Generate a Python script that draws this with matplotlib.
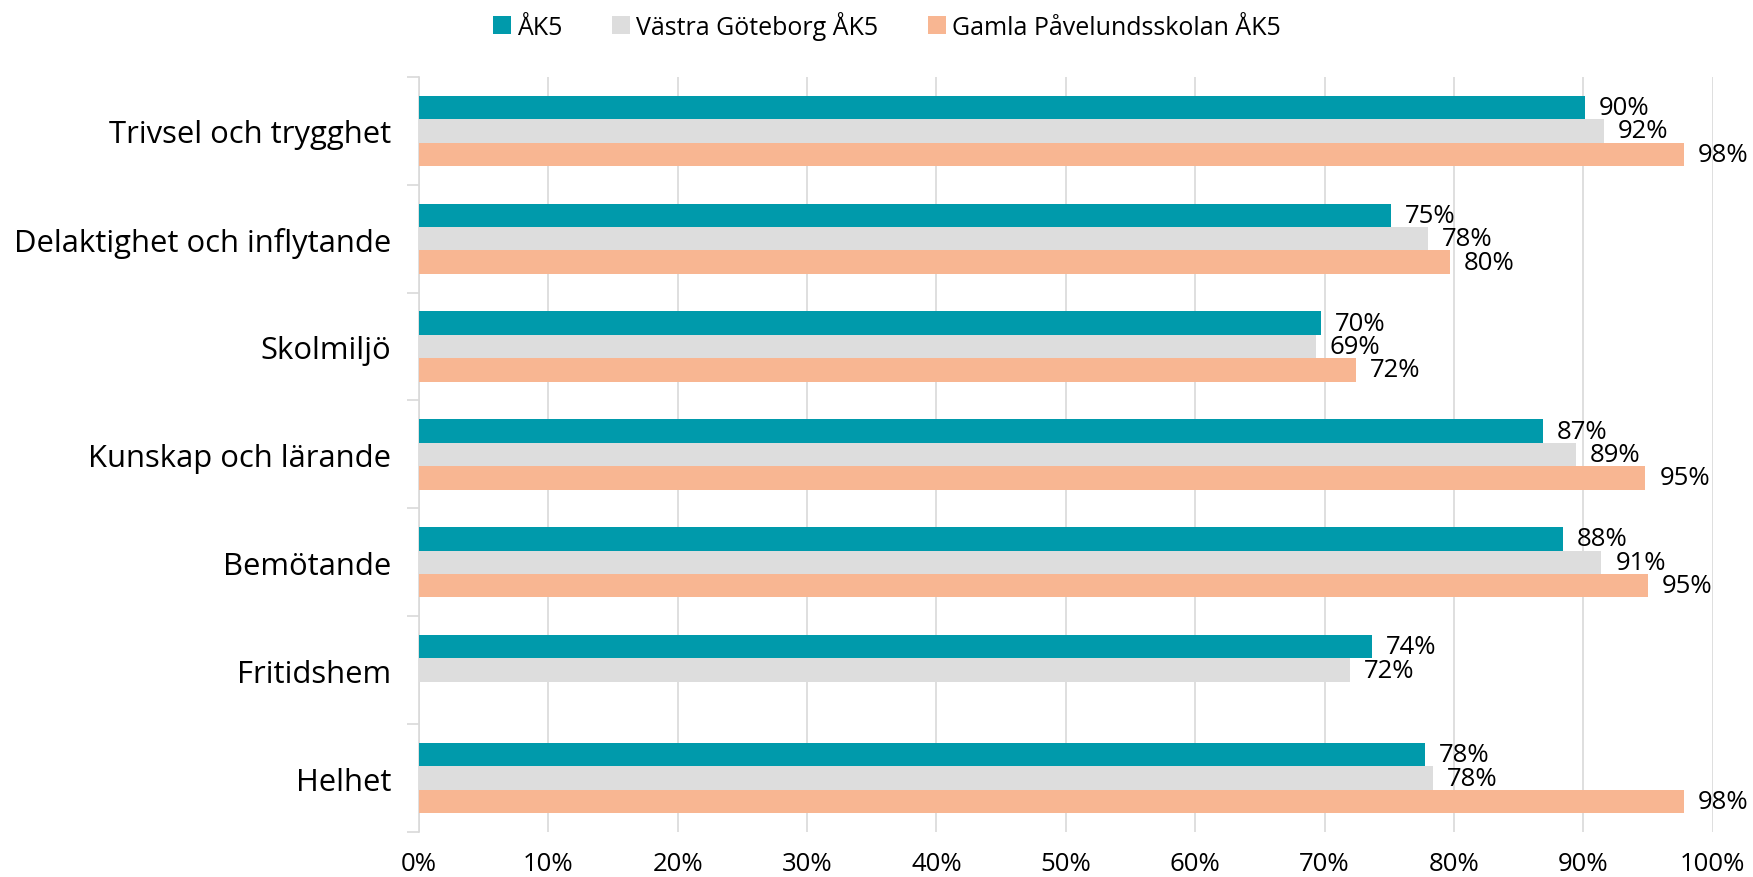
import matplotlib
matplotlib.use("Agg")
import matplotlib.pyplot as plt
import numpy as np

categories = ["Trivsel och trygghet", "Delaktighet och inflytande", "Skolmiljö",
              "Kunskap och lärande", "Bemötande", "Fritidshem", "Helhet"]
series_names = ["ÅK5", "Västra Göteborg ÅK5", "Gamla Påvelundsskolan ÅK5"]
ak5 = [0.901, 0.751, 0.697, 0.869, 0.884, 0.737, 0.778]
vastra = [0.916, 0.780, 0.693, 0.894, 0.914, 0.720, 0.784]
gamla = [0.978, 0.797, 0.724, 0.948, 0.950, np.nan, 0.978]
xticks = [0, 0.1, 0.2, 0.3, 0.4, 0.5, 0.6, 0.7, 0.8, 0.9, 1.0]
xticklabels = ["0%", "10%", "20%", "30%", "40%", "50%", "60%", "70%", "80%", "90%", "100%"]

colors = ["#009AAB", "#DDDDDD", "#F8B692"]
plt.rcParams['font.family'] = ['Open Sans', 'DejaVu Sans']

fig = plt.figure(figsize=(17.53, 8.78), dpi=100)
ax = fig.add_axes([0.239, 0.0513, 0.738, 0.860])

n = len(categories)
y = np.arange(n)
bh = 0.217
offsets = [-bh, 0, bh]
all_series = [ak5, vastra, gamla]
for s, (vals, col, name, off) in enumerate(zip(all_series, colors, series_names, offsets)):
    vals = np.array(vals, dtype=float)
    mask = ~np.isnan(vals)
    ax.barh(y[mask] + off, vals[mask], height=bh, color=col, label=name, zorder=3)
    for yi, v in zip(y[mask] + off, vals[mask]):
        ax.annotate(f"{round(v*100):.0f}%", xy=(v, yi), xytext=(10, 0),
                    textcoords="offset points", va="center", ha="left",
                    fontsize=18.5, color="#000000")

ax.set_xlim(0, 1.0)
ax.set_ylim(n - 0.5, -0.5)
ax.set_xticks(xticks)
ax.set_xticklabels(xticklabels, fontsize=18.5)
ax.set_yticks(y)
ax.set_yticklabels(categories, fontsize=22.3)
ax.set_yticks(np.arange(-0.5, n, 1.0), minor=True)
ax.tick_params(axis='y', which='major', length=0, pad=20)
ax.tick_params(axis='y', which='minor', length=9, color="#D9D9D9", width=1.2)
ax.tick_params(axis='x', which='major', length=0, pad=14)
ax.grid(axis='x', color="#D9D9D9", linewidth=1.2, zorder=0)
for sp in ["top", "right", "bottom"]:
    ax.spines[sp].set_visible(False)
ax.spines["left"].set_color("#D9D9D9")
ax.spines["left"].set_linewidth(1.2)

handles, labels = ax.get_legend_handles_labels()
fig.legend(handles, labels, loc="center", bbox_to_anchor=(0.506, 0.970), ncol=3,
           frameon=False, fontsize=18, handlelength=0.7, handleheight=0.7,
           handletextpad=0.25, columnspacing=2.0)

fig.savefig("out.png", dpi=100)
